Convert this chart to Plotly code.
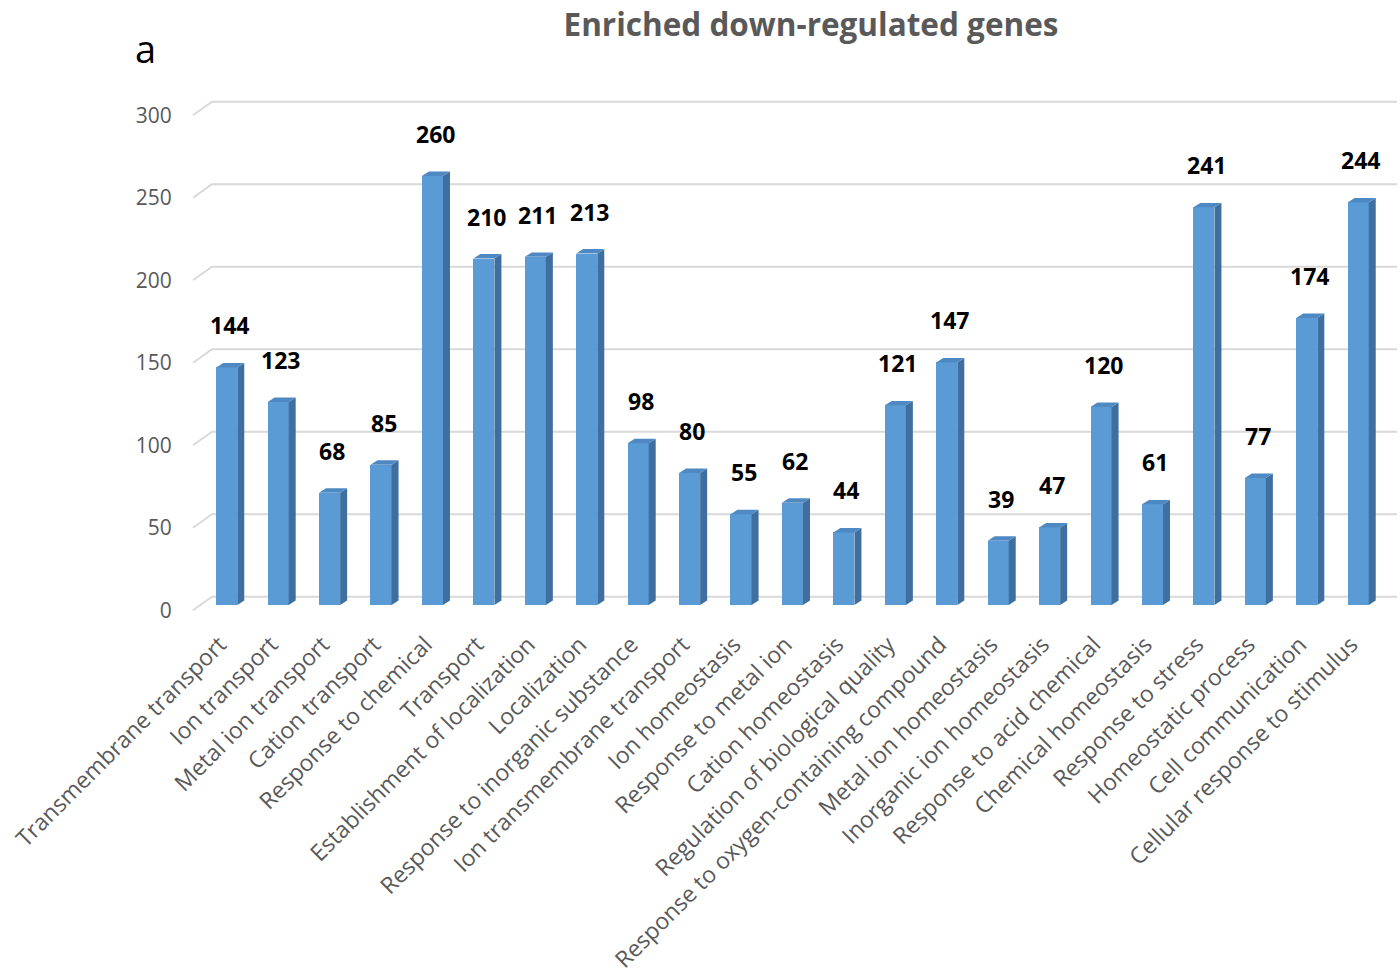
import plotly.graph_objects as go

# GO terms enriched among down-regulated genes and their gene counts
categories = [
    "Transmembrane transport", "Ion transport", "Metal ion transport",
    "Cation transport", "Response to chemical", "Transport",
    "Establishment of localization", "Localization",
    "Response to inorganic substance", "Ion transmembrane transport",
    "Ion homeostasis", "Response to metal ion", "Cation homeostasis",
    "Regulation of biological quality",
    "Response to oxygen-containing compound", "Metal ion homeostasis",
    "Inorganic ion homeostasis", "Response to acid chemical",
    "Chemical homeostasis", "Response to stress", "Homeostatic process",
    "Cell communication", "Cellular response to stimulus",
]
gene_counts = [144, 123, 68, 85, 260, 210, 211, 213, 98, 80, 55, 62, 44,
               121, 147, 39, 47, 120, 61, 241, 77, 174, 244]
y_ticks = [0, 50, 100, 150, 200, 250, 300]

FRONT = "#5B9BD5"
SIDE = "#3F6F9E"
TOP = "#4F89C3"
GRID = "#D9D9D9"
TEXT_GREY = "#595959"
FONT = "Open Sans"

# page geometry
W, H = 1400, 980
M_L, M_R, M_T, M_B = 188, 2, 93, 365

# pseudo-3D geometry (x in category units, y in value units)
BAR_W = 0.41          # front face width
DEPTH_X = 0.136       # horizontal depth of side/top faces
DEPTH_Y = 2.7         # vertical depth of side/top faces
WALL_Y = 5.0          # back wall offset of the gridlines
FLOOR_Y = -3.2        # front edge of the floor (tick label level)
WALL_X0, WALL_X1, FLOOR_X = -0.286, 22.755, -0.656

xs = list(range(len(categories)))

fig = go.Figure()

# floor / wall gridlines with their slanted left ends, behind the bars
for t in y_ticks:
    grid_path = (f"M {FLOOR_X} {t + FLOOR_Y} L {WALL_X0} {t + WALL_Y} "
                 f"L {WALL_X1} {t + WALL_Y}")
    fig.add_shape(type="path", path=grid_path, xref="x", yref="y",
                  line=dict(color=GRID, width=2), layer="below")

# front faces of the bars
fig.add_trace(go.Bar(x=xs, y=gene_counts, width=BAR_W,
                     marker=dict(color=FRONT, line=dict(width=0)),
                     showlegend=False))

# side and top faces
h = BAR_W / 2
for x, v in zip(xs, gene_counts):
    side = (f"M {x + h} 0 L {x + h} {v} L {x + h + DEPTH_X} {v + DEPTH_Y} "
            f"L {x + h + DEPTH_X} {DEPTH_Y} Z")
    top = (f"M {x - h} {v} L {x - h + DEPTH_X} {v + DEPTH_Y} "
           f"L {x + h + DEPTH_X} {v + DEPTH_Y} L {x + h} {v} Z")
    fig.add_shape(type="path", path=side, xref="x", yref="y",
                  fillcolor=SIDE, line=dict(width=0), layer="above")
    fig.add_shape(type="path", path=top, xref="x", yref="y",
                  fillcolor=TOP, line=dict(width=0), layer="above")

# value labels above the bars
for x, v in zip(xs, gene_counts):
    fig.add_annotation(x=x + 0.05, y=v, yshift=42, text=f"<b>{v}</b>",
                       showarrow=False, xref="x", yref="y",
                       font=dict(family=FONT, size=23, color="black"))

# invisible trace to activate the label axis
fig.add_trace(go.Scatter(x=[0], y=[0], yaxis="y2", mode="markers",
                         marker=dict(opacity=0), hoverinfo="skip",
                         showlegend=False))

Y_RANGE = [-6.06, 310.3]

fig.update_layout(
    width=W, height=H,
    margin=dict(l=M_L, r=M_R, t=M_T, b=M_B),
    plot_bgcolor="white", paper_bgcolor="white",
    font=dict(family=FONT, color=TEXT_GREY),
    bargap=0,
    xaxis=dict(range=[-0.753, 22.774], tickmode="array", tickvals=xs,
               ticktext=categories, tickangle=-45, showgrid=False,
               zeroline=False, showline=False, ticks="outside", ticklen=6,
               tickcolor="rgba(0,0,0,0)", automargin=False,
               ticklabelshift=-7,
               tickfont=dict(family=FONT, size=23, color=TEXT_GREY)),
    yaxis=dict(range=Y_RANGE, showgrid=False, zeroline=False,
               showticklabels=False, showline=False, automargin=False),
    yaxis2=dict(range=[Y_RANGE[0] - FLOOR_Y, Y_RANGE[1] - FLOOR_Y],
                overlaying="y", side="left", tickmode="array",
                tickvals=y_ticks, showgrid=False, zeroline=False,
                showline=False, ticks="outside", ticklen=11,
                tickcolor="rgba(0,0,0,0)", automargin=False,
                tickfont=dict(family=FONT, size=21, color=TEXT_GREY)),
    title=dict(text="<b>Enriched down-regulated genes</b>",
               x=811 / W, xanchor="center", y=1 - 25 / H,
               yanchor="middle", automargin=False,
               font=dict(family=FONT, size=31.5, color=TEXT_GREY)),
)

# panel letter
plot_w, plot_h = W - M_L - M_R, H - M_T - M_B
fig.add_annotation(text="a", xref="paper", yref="paper",
                   x=(145 - M_L) / plot_w, y=(H - M_B - 48) / plot_h,
                   showarrow=False, xanchor="center", yanchor="middle",
                   font=dict(family=FONT, size=38, color="black"))

fig.write_html("out.html")
